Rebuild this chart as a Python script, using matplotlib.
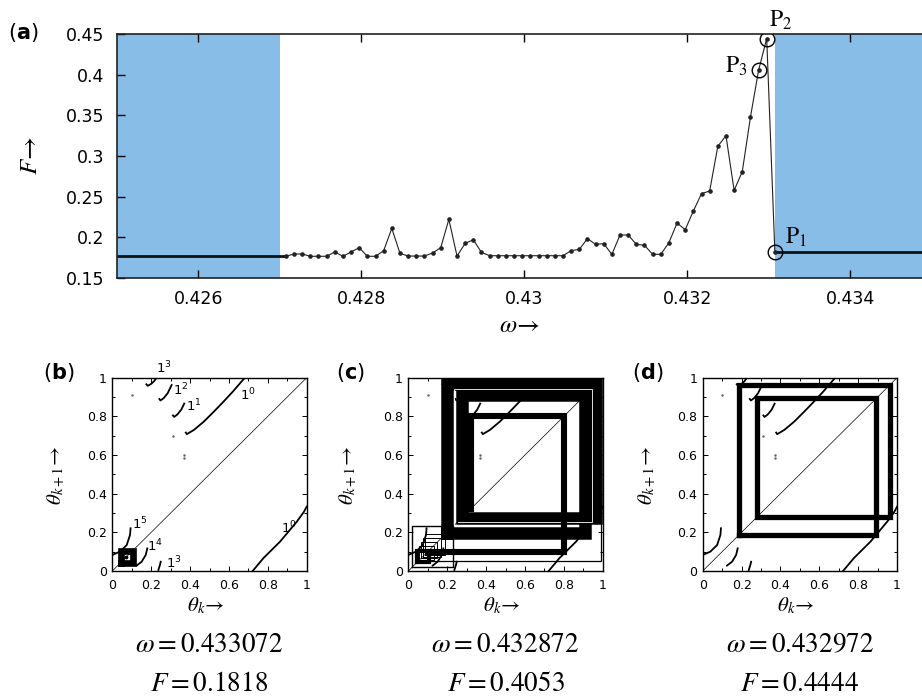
import numpy as np
import matplotlib
matplotlib.use('Agg')
import matplotlib.pyplot as plt

plt.rcParams['mathtext.fontset'] = 'stix'
plt.rcParams['font.family'] = 'DejaVu Sans'

# ---- panel (a): F against omega ----
omega = [0.427072, 0.427172, 0.427272, 0.427372, 0.427472, 0.427572, 0.427672, 0.427772, 0.427872, 0.427972,
         0.428072, 0.428172, 0.428272, 0.428372, 0.428472, 0.428572, 0.428672, 0.428772, 0.428872, 0.428972,
         0.429072, 0.429172, 0.429272, 0.429372, 0.429472, 0.429572, 0.429672, 0.429772, 0.429872, 0.429972,
         0.430072, 0.430172, 0.430272, 0.430372, 0.430472, 0.430572, 0.430672, 0.430772, 0.430872, 0.430972,
         0.431072, 0.431172, 0.431272, 0.431372, 0.431472, 0.431572, 0.431672, 0.431772, 0.431872, 0.431972,
         0.432072, 0.432172, 0.432272, 0.432372, 0.432472, 0.432572, 0.432672, 0.432772, 0.432872, 0.432972,
         0.433072]
F = [0.1767, 0.1795, 0.1795, 0.1767, 0.1767, 0.1767, 0.1820, 0.1767, 0.1820, 0.1873,
     0.1767, 0.1767, 0.1836, 0.2110, 0.1803, 0.1770, 0.1770, 0.1770, 0.1807, 0.1873,
     0.2221, 0.1770, 0.1926, 0.1970, 0.1815, 0.1774, 0.1774, 0.1774, 0.1774, 0.1774,
     0.1774, 0.1774, 0.1774, 0.1774, 0.1774, 0.1836, 0.1852, 0.1984, 0.1914, 0.1922,
     0.1791, 0.2029, 0.2029, 0.1914, 0.1902, 0.1791, 0.1791, 0.1934, 0.2176, 0.2094,
     0.2324, 0.2537, 0.2570, 0.3119, 0.3250, 0.2578, 0.2807, 0.3476, 0.4053, 0.4444,
     0.1818]
locked_lo = [0.425, 0.427]
locked_hi = [0.433072, 0.435]
F_lock_lo = 0.1767
F_lock_hi = 0.1818
marked_idx = [60, 59, 58]
marked_names = [r'$\mathrm{P}_1$', r'$\mathrm{P}_2$', r'$\mathrm{P}_3$']
a_xticks = [0.426, 0.428, 0.43, 0.432, 0.434]
a_xlabels = ['0.426', '0.428', '0.43', '0.432', '0.434']
a_yticks = [0.15, 0.2, 0.25, 0.3, 0.35, 0.4, 0.45]
a_ylabels = ['0.15', '0.2', '0.25', '0.3', '0.35', '0.4', '0.45']

# ---- panels (b)-(d): return maps ----
br_up0_x = [0.378, 0.383, 0.39, 0.42, 0.47, 0.52, 0.57, 0.62, 0.68]
br_up0_y = [0.716, 0.708, 0.712, 0.73, 0.772, 0.822, 0.874, 0.928, 0.998]
br_lo0_x = [0.722, 0.777, 0.863, 0.949, 0.985, 1.0]
br_lo0_y = [0.0, 0.066, 0.152, 0.255, 0.305, 0.333]
br_1_x = [0.312, 0.318, 0.335, 0.355, 0.37]
br_1_y = [0.805, 0.797, 0.81, 0.835, 0.866]
br_2_x = [0.242, 0.248, 0.265, 0.285, 0.305]
br_2_y = [0.89, 0.882, 0.895, 0.92, 0.962]
br_3_x = [0.175, 0.182, 0.2, 0.215, 0.228]
br_3_y = [0.966, 0.958, 0.968, 0.982, 1.0]
br_5_x = [0.0, 0.039, 0.074, 0.091, 0.094]
br_5_y = [0.083, 0.10, 0.134, 0.186, 0.221]
br_4_x = [0.125, 0.151, 0.172, 0.18]
br_4_y = [0.028, 0.048, 0.083, 0.117]
br_3b_x = [0.237, 0.245, 0.249]
br_3b_y = [0.005, 0.031, 0.048]
branches = [(br_up0_x, br_up0_y), (br_lo0_x, br_lo0_y), (br_1_x, br_1_y), (br_2_x, br_2_y),
            (br_3_x, br_3_y), (br_5_x, br_5_y), (br_4_x, br_4_y), (br_3b_x, br_3b_y)]
specks_x = [0.10, 0.31, 0.37, 0.37]
specks_y = [0.91, 0.70, 0.60, 0.585]

branch_names = [r'$1^3$', r'$1^2$', r'$1^1$', r'$1^0$', r'$1^0$', r'$1^5$', r'$1^4$', r'$1^3$']
name_x = [0.265, 0.35, 0.42, 0.70, 0.91, 0.14, 0.22, 0.315]
name_y = [1.05, 0.935, 0.855, 0.91, 0.22, 0.245, 0.13, 0.04]

# cobweb orbits: (values, closed, linewidth, colour)
orbits_b = [([0.043, 0.1045], True, 4.8, 'k')]
orbits_c = [([0.199, 0.967, 0.275, 0.91], True, 9.0, 'k'),
            ([0.235, 0.943, 0.255], False, 0.6, 'w'),
            ([0.323, 0.803, 0.10], False, 4.4, 'k'),
            ([0.99, 0.05], False, 0.9, 'k'),
            ([0.02, 0.232], True, 1.0, 'k'),
            ([0.045, 0.105], True, 3.0, 'k'),
            ([0.055, 0.13], True, 0.7, 'k'),
            ([0.065, 0.15], True, 0.7, 'k'),
            ([0.075, 0.17], True, 0.7, 'k'),
            ([0.085, 0.19], True, 0.7, 'k')]
orbits_d = [([0.185, 0.962, 0.278, 0.893], True, 3.8, 'k')]

omega_sel = ['0.433072', '0.432872', '0.432972']
F_sel = ['0.1818', '0.4053', '0.4444']
map_ticks = [0, 0.2, 0.4, 0.6, 0.8, 1]
map_ticklabels = ['0', '0.2', '0.4', '0.6', '0.8', '1']

blue = '#87bde6'
W, H = 922, 700


def cobweb(ax, orbit, closed, lw, color):
    seq = list(orbit) + ([orbit[0]] if closed else [])
    xs, ys = [seq[0]], [seq[0]]
    for v in seq[1:]:
        xs += [xs[-1], v]
        ys += [v, v]
    ax.plot(xs, ys, color=color, lw=lw, solid_joinstyle='miter',
            solid_capstyle='projecting', zorder=3)


fig = plt.figure(figsize=(W / 100, H / 100), dpi=100)

# ---------------- panel (a) ----------------
ax = fig.add_axes([117 / W, 1 - 278 / H, 815 / W, 244 / H])
ax.axvspan(*locked_lo, color=blue, lw=0, zorder=0)
ax.axvspan(*locked_hi, color=blue, lw=0, zorder=0)
ax.plot([locked_lo[0], omega[0]], [F_lock_lo, F_lock_lo], color='#111111', lw=2.0, zorder=2)
ax.plot([omega[-1], locked_hi[1]], [F_lock_hi, F_lock_hi], color='#111111', lw=2.0, zorder=2)
ax.plot(omega, F, color='#222222', lw=0.8, marker='o', markersize=2.3, zorder=3)
for i in marked_idx:
    ax.plot(omega[i], F[i], 'o', mfc='none', mec='k', mew=1.0, markersize=10.5, zorder=4)
offsets = [(15, 11), (10, 13.5), (-16, 3)]
for i, name, off in zip(marked_idx, marked_names, offsets):
    ax.annotate(name, (omega[i], F[i]), xytext=off, textcoords='offset points',
                ha='center', va='center', fontsize=17, annotation_clip=False)
ax.set_xlim(0.425, 0.435)
ax.set_ylim(0.15, 0.45)
ax.set_xticks(a_xticks)
ax.set_xticklabels(a_xlabels)
ax.set_yticks(a_yticks)
ax.set_yticklabels(a_ylabels)
ax.tick_params(direction='in', length=6, width=1, top=True, right=True,
               labelsize=12.5, pad=9)
for s in ax.spines.values():
    s.set_linewidth(1.2)
    s.set_color('#222222')

fig.text(23 / W, 1 - 33 / H, r'($\mathbf{a}$)', fontsize=15, ha='center', va='center',
         math_fontfamily='dejavusans')
fig.text(30 / W, 1 - 155 / H, r'$F\!\rightarrow$', fontsize=18, rotation=90, ha='center', va='center')
fig.text(520 / W, 1 - 325 / H, r'$\omega\!\rightarrow$', fontsize=18, ha='center', va='center')

# ---------------- panels (b)-(d) ----------------
lefts = [112.3, 408.3, 702.7]
letters = ['b', 'c', 'd']
label_x = [59, 350, 648]
ylab_x = [56, 348, 647]
orbit_sets = [orbits_b, orbits_c, orbits_d]
aw, ah = 194.4, 193.3
for k in range(3):
    l = lefts[k]
    axm = fig.add_axes([l / W, 1 - 571 / H, aw / W, ah / H])
    axm.plot([0, 1], [0, 1], color='k', lw=0.5, zorder=2)
    for bx, by in branches:
        axm.plot(bx, by, color='k', lw=1.3, zorder=2)
    axm.scatter(specks_x, specks_y, s=0.6, color='#666666', zorder=2)
    for orb, closed, lw, col in orbit_sets[k]:
        cobweb(axm, orb, closed, lw, col)
    if k == 0:
        axm.scatter([0.073], [0.074], s=3, color='k', zorder=4)
        for nm, nx, ny in zip(branch_names, name_x, name_y):
            axm.text(nx, ny, nm, fontsize=9.5, ha='center', va='center',
                     math_fontfamily='dejavusans', clip_on=False)
    axm.set_xlim(0, 1)
    axm.set_ylim(0, 1)
    axm.set_xticks(map_ticks)
    axm.set_xticklabels(map_ticklabels)
    axm.set_yticks(map_ticks)
    axm.set_yticklabels(map_ticklabels)
    axm.set_xticks(np.arange(0.1, 1.0, 0.2), minor=True)
    axm.set_yticks(np.arange(0.1, 1.0, 0.2), minor=True)
    axm.tick_params(which='both', direction='in', top=True, right=True, width=0.7)
    axm.tick_params(which='major', length=3.5, labelsize=9, pad=4)
    axm.tick_params(which='minor', length=2)
    axm.tick_params(axis='x', pad=6)
    for s in axm.spines.values():
        s.set_linewidth(1.0)

    cx = (l + aw / 2) / W
    fig.text(label_x[k] / W, 1 - 372 / H, r'($\mathbf{%s}$)' % letters[k], fontsize=15,
             ha='center', va='center', math_fontfamily='dejavusans')
    fig.text(ylab_x[k] / W, 1 - 475 / H, r'$\theta_{k+1}\!\rightarrow$', fontsize=15,
             rotation=90, ha='center', va='center')
    fig.text(cx - 4 / W, 1 - 606 / H, r'$\theta_k\!\rightarrow$', fontsize=15,
             ha='center', va='center')
    fig.text(cx, 1 - 645 / H, r'$\omega = %s$' % omega_sel[k], fontsize=19.5,
             ha='center', va='center')
    fig.text(cx, 1 - 684 / H, r'$F = %s$' % F_sel[k], fontsize=19.5,
             ha='center', va='center')

fig.savefig('out.png', dpi=100)
